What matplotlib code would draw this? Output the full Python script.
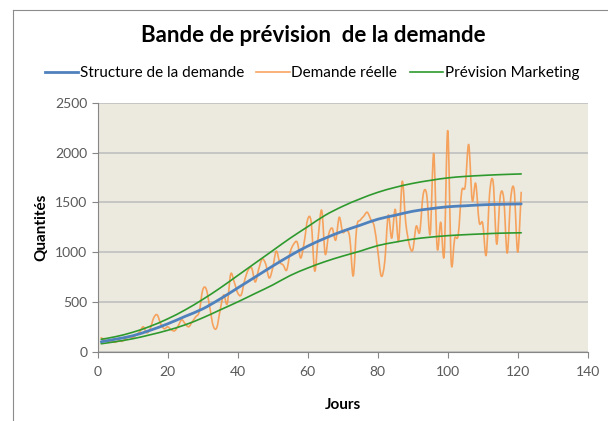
import matplotlib
matplotlib.use("Agg")
import matplotlib.pyplot as plt
from matplotlib.lines import Line2D
from matplotlib.path import Path
from matplotlib.patches import PathPatch

plt.rcParams['font.family'] = ['Lato', 'DejaVu Sans']

# --- data ---
# smooth curves, sampled every 5 days
jours_courbe = [1, 5, 10, 15, 20, 25, 30, 35, 40, 45, 50, 55, 60, 65, 70,
                75, 80, 85, 90, 95, 100, 105, 110, 115, 121]
structure = [100, 125, 160, 215, 280, 355, 430, 530, 640, 750, 860, 965, 1060,
             1140, 1210, 1270, 1330, 1370, 1410, 1435, 1455, 1465, 1475, 1480, 1484]
prev_haute = [125, 150, 195, 255, 330, 420, 525, 640, 765, 890, 1015, 1140, 1255,
              1370, 1460, 1535, 1600, 1650, 1690, 1720, 1745, 1760, 1770, 1778, 1785]
prev_basse = [80, 100, 130, 170, 215, 270, 340, 420, 500, 585, 670, 765, 840,
              905, 960, 1010, 1065, 1100, 1130, 1150, 1165, 1175, 1183, 1190, 1194]

# daily actual demand, days 1..121
jours = list(range(1, 122))
demande = [140, 120, 105, 100, 95, 110, 105, 130, 150, 140,
           170, 200, 250, 190, 230, 340, 370, 280, 230, 250,
           220, 210, 260, 320, 280, 250, 300, 350, 400, 620,
           630, 450, 260, 240, 420, 570, 480, 780, 700, 590,
           570, 720, 820, 840, 700, 830, 930, 880, 740, 840,
           1010, 900, 870, 820, 1000, 1080, 1100, 940, 1100, 1330,
           1300, 810, 1150, 1420, 980, 1180, 1240, 1120, 1350, 1200,
           1220, 1150, 760, 1250, 1320, 1360, 1400, 1330, 1260, 1020,
           760, 900, 1370, 1140, 1430, 1110, 1710, 1300, 1080, 1020,
           1260, 1200, 1580, 1580, 1180, 1990, 1040, 1300, 970, 2220,
           900, 1140, 1170, 1610, 1660, 2080, 1520, 1690, 1300, 1290,
           970, 1600, 1700, 1080, 1560, 1540, 990, 1540, 1620, 1000,
           1600]

c_blue = '#4F81BD'
c_orange = '#F79646'
c_green = '#2E9A2E'
c_grid = '#BFBFBF'
c_axis = '#868686'
c_text = '#595959'


def smooth_line(ax, xs, ys, **kw):
    """Excel-style smoothed line: Catmull-Rom segments drawn as cubic Beziers."""
    pts = list(zip(xs, ys))
    verts = [pts[0]]
    codes = [Path.MOVETO]
    n = len(pts)
    for i in range(n - 1):
        p0 = pts[max(i - 1, 0)]
        p1 = pts[i]
        p2 = pts[i + 1]
        p3 = pts[min(i + 2, n - 1)]
        c1 = (p1[0] + (p2[0] - p0[0]) / 6, p1[1] + (p2[1] - p0[1]) / 6)
        c2 = (p2[0] - (p3[0] - p1[0]) / 6, p2[1] - (p3[1] - p1[1]) / 6)
        verts += [c1, c2, p2]
        codes += [Path.CURVE4] * 3
    patch = PathPatch(Path(verts, codes), fill=False, capstyle='round',
                      joinstyle='round', **kw)
    ax.add_patch(patch)
    return patch


fig = plt.figure(figsize=(6.08, 4.21), dpi=100)
ax = fig.add_axes([0.1607, 0.1646, 0.8059, 0.5914])
ax.set_facecolor('#ECE9DF')

smooth_line(ax, jours, demande, edgecolor=c_orange, lw=1.2, alpha=0.85, zorder=3)
smooth_line(ax, jours_courbe, prev_haute, edgecolor=c_green, lw=1.2, zorder=4)
smooth_line(ax, jours_courbe, prev_basse, edgecolor=c_green, lw=1.2, zorder=4)
smooth_line(ax, jours_courbe, structure, edgecolor=c_blue, lw=2.0, zorder=5)

ax.set_xlim(0, 140)
ax.set_ylim(0, 2500)
ax.set_xticks(range(0, 141, 20))
ax.set_yticks(range(0, 2501, 500))
ax.yaxis.grid(True, color=c_grid, lw=1.2)
ax.set_axisbelow(True)
for s in ['top', 'right']:
    ax.spines[s].set_visible(False)
for s in ['left', 'bottom']:
    ax.spines[s].set_color(c_axis)
    ax.spines[s].set_linewidth(0.8)
ax.tick_params(colors=c_axis, labelcolor=c_text, labelsize=10, length=4, width=0.8)
ax.tick_params(axis='x', pad=6)

ax.set_xlabel('Jours', fontsize=11, fontweight='bold', labelpad=15)
ax.set_ylabel('Quantités', fontsize=11, fontweight='bold', labelpad=5)

fig.text(0.515, 0.915, 'Bande de prévision  de la demande', ha='center', va='center',
         fontsize=16, fontweight='bold')

handles = [Line2D([], [], color=c_blue, lw=2.0),
           Line2D([], [], color=c_orange, lw=1.2, alpha=0.85),
           Line2D([], [], color=c_green, lw=1.2)]
labels = ['Structure de la demande', 'Demande réelle', 'Prévision Marketing']
fig.legend(handles, labels, loc='center', bbox_to_anchor=(0.513, 0.826), ncol=3,
           frameon=False, fontsize=11, handlelength=2.2, handletextpad=0.1,
           columnspacing=0.8)

# chart frame (left and top edges visible in the crop)
fig.add_artist(Line2D([12.5 / 608, 12.5 / 608], [0, 1 - 10 / 421],
                      transform=fig.transFigure, color='#8C8C8C', lw=0.8))
fig.add_artist(Line2D([12.5 / 608, 1], [1 - 10 / 421, 1 - 10 / 421],
                      transform=fig.transFigure, color='#8C8C8C', lw=0.8))

fig.savefig('out.png', dpi=100)
